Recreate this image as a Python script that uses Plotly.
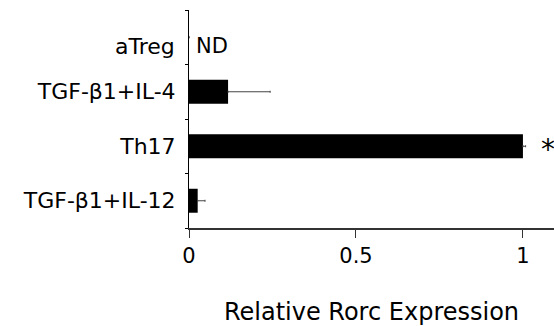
import plotly.graph_objects as go

categories = ["TGF-β1+IL-12", "Th17", "TGF-β1+IL-4", "aTreg"]
values = [0.026, 1.0, 0.117, 0.0]
errors = [0.022, 0.008, 0.126, 0.0]
x_ticks = [0, 0.5, 1]
x_tick_labels = ["0", "0.5", "1"]

font = "DejaVu Sans, sans-serif"

fig = go.Figure()
fig.add_trace(go.Bar(
    y=categories, x=values, orientation="h",
    marker=dict(color="black", line=dict(width=0)),
    width=0.44,
    error_x=dict(type="data", array=errors, arrayminus=[0]*4, symmetric=False,
                 color="#444", thickness=1, width=1),
))
# aTreg label sits slightly below its category centre in the reference
ticktext = [c if c != "aTreg" else "" for c in categories]
fig.add_annotation(x=0, y="aTreg", text="aTreg", showarrow=False, xanchor="right",
                   xref="x", xshift=-12, yshift=-9,
                   font=dict(family=font, size=22, color="black"))
fig.add_annotation(x=0, y="aTreg", text="ND", showarrow=False, xanchor="left",
                   xshift=5, yshift=-9, font=dict(family=font, size=21, color="black"))
fig.add_annotation(x=1.0, y="Th17", text="*", showarrow=False, xanchor="left",
                   xshift=16, yshift=-3, font=dict(family=font, size=28, color="black"))

fig.update_layout(
    width=554, height=326,
    margin=dict(l=189, r=0, t=10, b=98, autoexpand=False),
    paper_bgcolor="white", plot_bgcolor="white",
    showlegend=False,
    font=dict(family=font, size=21, color="black"),
)
fig.update_xaxes(
    range=[0, 1.093], tickvals=x_ticks, ticktext=x_tick_labels,
    showgrid=False, zeroline=False, showline=True, linecolor="#333", linewidth=2,
    ticks="outside", ticklen=8, tickcolor="#333", tickwidth=1,
    tickfont=dict(size=21), automargin=False,
    title=dict(text="Relative Rorc Expression", font=dict(size=24), standoff=36),
)
fig.update_yaxes(
    categoryorder="array", categoryarray=categories,
    tickvals=categories, ticktext=ticktext,
    showgrid=False, zeroline=False, showline=True, linecolor="black", linewidth=1,
    ticks="outside", ticklen=3, tickcolor="black", tickson="boundaries",
    tickfont=dict(size=22), ticklabelstandoff=8, automargin=False,
)
fig.write_html("out.html", config={"displayModeBar": False},
               post_script="document.body.style.margin='0';document.body.style.overflow='hidden';")
